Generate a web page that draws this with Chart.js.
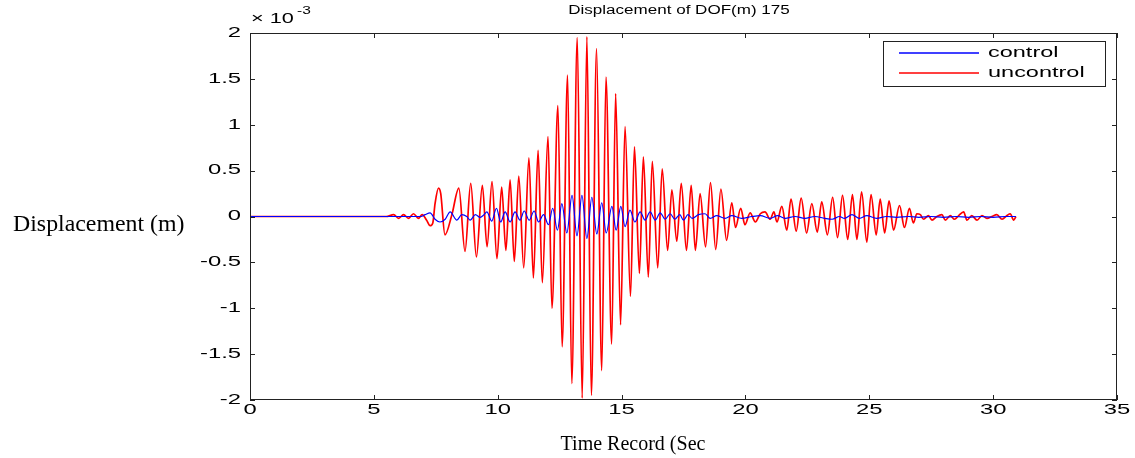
<!DOCTYPE html>
<html>
<head>
<meta charset="utf-8">
<title>Displacement of DOF(m) 175</title>
<script src="https://cdn.jsdelivr.net/npm/chart.js@4.4.0/dist/chart.umd.min.js"></script>
<style>
  html, body { margin: 0; padding: 0; background: #fff; }
  canvas { display: block; }
</style>
</head>
<body>
<canvas id="chart" width="1135" height="458"></canvas>
<script>
// values are in units of 1e-3 m (axis is scaled x 10^-3)
const redTime = [0, 5.5, 5.8, 6.0, 6.2, 6.4, 6.6, 6.8, 6.95, 7.13, 7.27, 7.38, 7.47, 7.61, 7.70, 7.87, 8.15, 8.43, 8.68, 8.91,
  9.14, 9.38, 9.57, 9.77, 9.97, 10.16, 10.33, 10.50, 10.67, 10.85, 11.05, 11.26, 11.44, 11.63, 11.80, 12.03, 12.19, 12.43, 12.60, 12.82,
  12.99, 13.21, 13.41, 13.60, 13.78, 13.99, 14.20, 14.37, 14.60, 14.76, 14.96, 15.14, 15.36, 15.52, 15.72, 15.88, 16.08, 16.24, 16.46, 16.64,
  16.86, 17.03, 17.23, 17.41, 17.62, 17.81, 17.98, 18.17, 18.39, 18.59, 18.80, 19.01, 19.24, 19.45, 19.60, 19.81, 19.98, 20.19, 20.40, 20.60,
  20.79, 21.00, 21.15, 21.27, 21.47, 21.67, 21.84, 22.05, 22.25, 22.47, 22.68, 22.90, 23.08, 23.31, 23.52, 23.72, 23.92, 24.13, 24.32, 24.50,
  24.69, 24.90, 25.07, 25.28, 25.44, 25.62, 25.80, 25.98, 26.22, 26.42, 26.62, 26.78, 26.92, 27.06, 27.19, 27.39, 27.53, 27.73, 27.93, 28.07,
  28.27, 28.44, 28.61, 28.81, 28.94, 29.14, 29.35, 29.55, 29.75, 29.95, 30.15, 30.36, 30.56, 30.69, 30.83, 30.92];
const redDisp = [0, 0, 0.02, -0.02, 0.02, -0.02, 0.03, -0.02, 0.02, -0.04, -0.10, -0.07, 0.14, 0.31, 0.25, -0.20, 0.02, 0.31, -0.38, 0.36,
  -0.44, 0.34, -0.33, 0.38, -0.46, 0.32, -0.37, 0.40, -0.49, 0.44, -0.56, 0.64, -0.67, 0.72, -0.72, 0.87, -1.00, 1.21, -1.42, 1.54,
  -1.82, 1.95, -1.98, 1.96, -1.95, 1.83, -1.68, 1.52, -1.39, 1.34, -1.18, 0.98, -0.87, 0.76, -0.62, 0.65, -0.66, 0.60, -0.56, 0.52,
  -0.37, 0.29, -0.27, 0.36, -0.37, 0.34, -0.37, 0.25, -0.33, 0.37, -0.36, 0.30, -0.26, 0.15, -0.12, 0.09, -0.09, 0.04, -0.06, 0.03,
  0.05, -0.03, 0.05, -0.06, 0.11, -0.15, 0.19, -0.16, 0.20, -0.18, 0.14, -0.17, 0.16, -0.20, 0.21, -0.23, 0.23, -0.25, 0.24, -0.25,
  0.27, -0.28, 0.24, -0.20, 0.19, -0.18, 0.17, -0.15, 0.12, -0.12, 0.09, -0.07, 0.03, 0.02, -0.03, 0.01, -0.04, 0.00, 0.02, -0.04,
  0.01, -0.03, 0.01, 0.05, -0.04, 0.01, -0.04, 0.01, -0.02, 0.00, 0.02, -0.03, 0.01, 0.03, -0.04, 0.00];

const blueTime = [0, 6.6, 6.9, 7.07, 7.27, 7.47, 7.67, 7.88, 8.08, 8.35, 8.55, 8.75, 8.89, 9.10, 9.29, 9.45, 9.56, 9.76, 9.95, 10.12,
  10.30, 10.50, 10.70, 10.90, 11.07, 11.27, 11.47, 11.65, 11.85, 12.05, 12.22, 12.41, 12.59, 12.79, 13.00, 13.20, 13.40, 13.60, 13.80, 14.00,
  14.20, 14.38, 14.61, 14.78, 14.97, 15.14, 15.34, 15.54, 15.75, 15.95, 16.15, 16.36, 16.56, 16.76, 16.96, 17.15, 17.35, 17.50, 17.68, 17.85,
  18.10, 18.37, 18.58, 18.84, 19.18, 19.45, 19.85, 20.26, 20.60, 21.00, 21.30, 21.60, 22.00, 22.40, 22.80, 23.20, 23.50, 23.80, 24.00, 24.30,
  24.60, 24.90, 25.30, 25.70, 26.10, 26.60, 27.00, 27.50, 28.00, 28.50, 29.00, 29.50, 30.00, 30.50, 30.92];
const blueDisp = [0, 0, 0.00, 0.02, 0.04, -0.03, -0.06, -0.03, 0.05, -0.04, 0.02, 0.00, -0.04, 0.02, -0.01, 0.02, 0.05, -0.05, 0.09, -0.06,
  0.05, -0.06, 0.05, -0.04, 0.06, -0.04, 0.06, -0.06, 0.02, -0.09, 0.09, -0.15, 0.14, -0.18, 0.23, -0.21, 0.23, -0.24, 0.21, -0.19,
  0.15, -0.18, 0.11, -0.15, 0.11, -0.11, 0.07, -0.06, 0.05, -0.04, 0.05, -0.04, 0.04, -0.03, 0.03, -0.03, 0.02, -0.04, 0.02, -0.02,
  0.02, 0.03, -0.02, 0.01, -0.02, 0.01, -0.02, 0.00, 0.01, -0.02, 0.01, -0.02, 0.00, -0.02, 0.00, -0.02, -0.03, 0.00, -0.02, 0.02,
  -0.02, 0.01, -0.02, 0.00, -0.01, 0.00, -0.01, 0.00, -0.01, 0.00, -0.01, 0.00, -0.01, 0.00, 0.00];

const xTicks = [0, 5, 10, 15, 20, 25, 30, 35];
const yTicks = [-2, -1.5, -1, -0.5, 0, 0.5, 1, 1.5, 2];
const yTickLabels = ['-2', '-1.5', '-1', '-0.5', '0', '0.5', '1', '1.5', '2'];

const seriesNames = ['control', 'uncontrol'];
const seriesColors = ['#0000ff', '#ff0000'];

const toPoints = (ts, vs) => ts.map((t, i) => ({ x: t, y: vs[i] }));

// the figure text is stretched sideways, like the original export
function wideText(ctx, txt, x, y, align, sx) {
  ctx.save();
  ctx.translate(x, y);
  ctx.scale(sx, 1);
  ctx.textAlign = align;
  ctx.fillText(txt, 0, 0);
  ctx.restore();
}

const SANS = '"Liberation Sans", Arial, sans-serif';
const SERIF = '"Liberation Serif", "Times New Roman", serif';

// box, inward ticks, labels and legend drawn matlab style
const matlabAxes = {
  id: 'matlabAxes',
  afterDraw(chart) {
    const ctx = chart.ctx;
    const a = chart.chartArea;
    const xs = chart.scales.x, ys = chart.scales.y;
    const tick = 5;

    ctx.save();
    ctx.strokeStyle = '#222';
    ctx.lineWidth = 1;
    ctx.strokeRect(a.left + 0.5, a.top + 0.5, a.right - a.left - 1, a.bottom - a.top - 1);

    ctx.beginPath();
    xTicks.forEach(v => {
      const px = Math.round(xs.getPixelForValue(v)) + 0.5;
      ctx.moveTo(px, a.bottom); ctx.lineTo(px, a.bottom - tick);
      ctx.moveTo(px, a.top); ctx.lineTo(px, a.top + tick);
    });
    yTicks.forEach(v => {
      const py = Math.round(ys.getPixelForValue(v)) + 0.5;
      ctx.moveTo(a.left, py); ctx.lineTo(a.left + tick, py);
      ctx.moveTo(a.right, py); ctx.lineTo(a.right - tick, py);
    });
    ctx.stroke();

    // tick labels
    ctx.fillStyle = '#000';
    ctx.font = '14px ' + SANS;
    ctx.textBaseline = 'middle';
    yTicks.forEach((v, i) => {
      wideText(ctx, yTickLabels[i], a.left - 9, ys.getPixelForValue(v), 'right', 1.7);
    });
    ctx.textBaseline = 'top';
    xTicks.forEach(v => {
      wideText(ctx, String(v), xs.getPixelForValue(v), a.bottom + 3, 'center', 1.7);
    });

    // exponent
    ctx.textBaseline = 'alphabetic';
    ctx.font = '14px ' + SANS;
    wideText(ctx, '\u00d7 10', a.left + 1, 23, 'left', 1.55);
    ctx.font = '10px ' + SANS;
    wideText(ctx, '-3', a.left + 47, 14, 'left', 1.55);

    // title
    ctx.font = '12px ' + SANS;
    wideText(ctx, 'Displacement of DOF(m) 175', 679, 14, 'center', 1.42);

    // axis labels
    ctx.font = '22.5px ' + SERIF;
    wideText(ctx, 'Displacement (m)', 13, 231, 'left', 1.06);
    ctx.font = '20px ' + SERIF;
    ctx.textAlign = 'center';
    ctx.fillText('Time Record (Sec', 633, 450);

    // legend
    const lx = 883, ly = 41, lw = 222, lh = 45;
    ctx.fillStyle = '#fff';
    ctx.fillRect(lx, ly, lw, lh);
    ctx.strokeStyle = '#222';
    ctx.strokeRect(lx + 0.5, ly + 0.5, lw, lh);
    seriesNames.forEach((name, i) => {
      const y = ly + 12 + i * 20;
      ctx.strokeStyle = seriesColors[i];
      ctx.lineWidth = 1.3;
      ctx.beginPath();
      ctx.moveTo(lx + 16, y); ctx.lineTo(lx + 96, y);
      ctx.stroke();
      ctx.fillStyle = '#000';
      ctx.font = '14.5px ' + SANS;
      ctx.textBaseline = 'middle';
      wideText(ctx, name, lx + 105, y, 'left', 1.62);
    });
    ctx.restore();
  }
};

new Chart(document.getElementById('chart'), {
  type: 'line',
  data: {
    datasets: [
      { label: seriesNames[0], data: toPoints(blueTime, blueDisp), borderColor: seriesColors[0], borderWidth: 1.2, order: 1 },
      { label: seriesNames[1], data: toPoints(redTime, redDisp), borderColor: seriesColors[1], borderWidth: 1.7, order: 2 }
    ]
  },
  options: {
    responsive: false,
    animation: false,
    devicePixelRatio: 1,
    layout: { padding: { top: 33, right: 18, bottom: 0, left: 0 } },
    elements: {
      point: { radius: 0 },
      line: { cubicInterpolationMode: 'monotone', fill: false }
    },
    plugins: { legend: { display: false }, tooltip: { enabled: false }, title: { display: false } },
    scales: {
      x: {
        type: 'linear', min: 0, max: 35,
        grid: { display: false }, border: { display: false },
        ticks: { display: false },
        afterFit: s => { s.height = 58; }
      },
      y: {
        type: 'linear', min: -2, max: 2,
        grid: { display: false }, border: { display: false },
        ticks: { display: false },
        afterFit: s => { s.width = 250; }
      }
    }
  },
  plugins: [matlabAxes]
});
</script>
</body>
</html>
